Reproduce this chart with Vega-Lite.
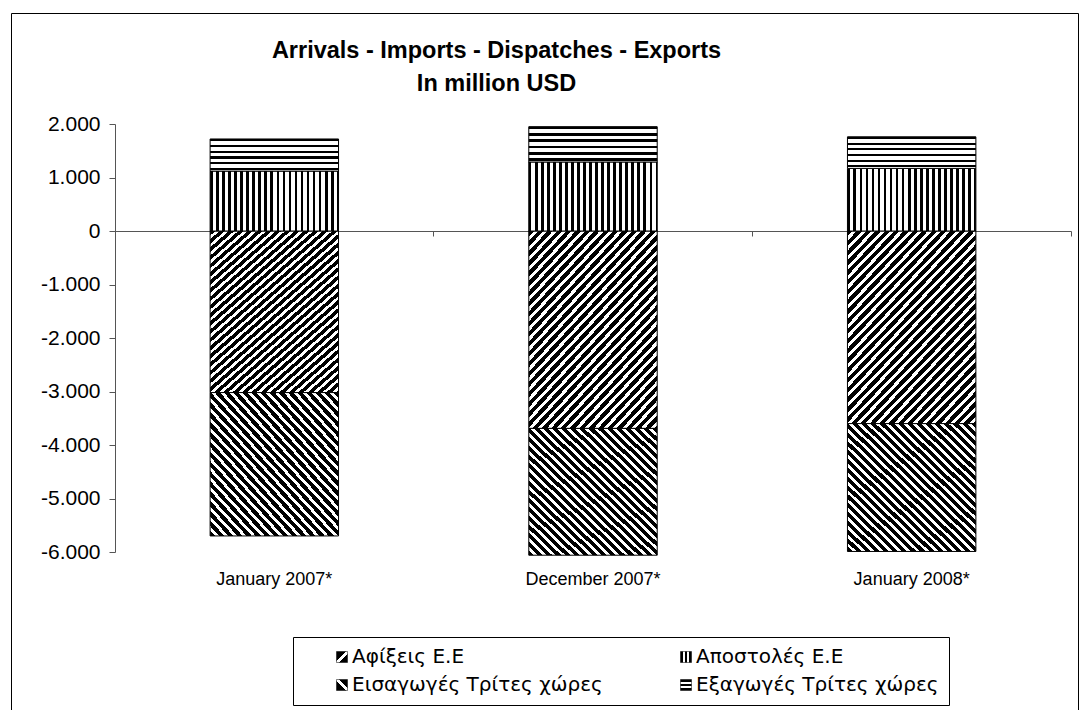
{
  "$schema": "https://vega.github.io/schema/vega-lite/v6.json",
  "width": 1067,
  "height": 710,
  "autosize": {"type": "none"},
  "padding": {"left": 11, "top": 13, "right": 10, "bottom": 0},
  "background": "white",
  "config": {
    "view": {"stroke": "#000", "strokeWidth": 1},
    "font": "Liberation Sans"
  },
  "title": {
    "text": ["Arrivals - Imports - Dispatches - Exports", "In million USD"],
    "fontSize": 23.5,
    "fontWeight": "bold",
    "font": "Liberation Sans",
    "color": "#000",
    "anchor": "middle",
    "offset": 0,
    "dy": 82,
    "dx": -48,
    "lineHeight": 33
  },
  "data": {
    "values": [
      {"period": "January 2007*", "series": "Αφίξεις Ε.Ε", "value": -3020, "ord": 1},
      {"period": "January 2007*", "series": "Εισαγωγές Τρίτες χώρες", "value": -2680, "ord": 2},
      {"period": "January 2007*", "series": "Αποστολές  Ε.Ε", "value": 1120, "ord": 1},
      {"period": "January 2007*", "series": "Εξαγωγές Τρίτες χώρες", "value": 600, "ord": 2},
      {"period": "December 2007*", "series": "Αφίξεις Ε.Ε", "value": -3690, "ord": 1},
      {"period": "December 2007*", "series": "Εισαγωγές Τρίτες χώρες", "value": -2370, "ord": 2},
      {"period": "December 2007*", "series": "Αποστολές  Ε.Ε", "value": 1290, "ord": 1},
      {"period": "December 2007*", "series": "Εξαγωγές Τρίτες χώρες", "value": 660, "ord": 2},
      {"period": "January 2008*", "series": "Αφίξεις Ε.Ε", "value": -3600, "ord": 1},
      {"period": "January 2008*", "series": "Εισαγωγές Τρίτες χώρες", "value": -2390, "ord": 2},
      {"period": "January 2008*", "series": "Αποστολές  Ε.Ε", "value": 1170, "ord": 1},
      {"period": "January 2008*", "series": "Εξαγωγές Τρίτες χώρες", "value": 590, "ord": 2}
    ]
  },
  "resolve": {"axis": {"x": "independent"}},
  "layer": [
    {
      "mark": {"type": "rule", "opacity": 0},
      "encoding": {
        "x": {
          "field": "period",
          "type": "nominal",
          "sort": ["January 2007*", "December 2007*", "January 2008*"],
          "scale": {"range": [104, 1060], "paddingInner": 0, "paddingOuter": 0},
          "axis": {
            "orient": "bottom",
            "offset": -492,
            "title": null,
            "labels": false,
            "domainColor": "#555",
            "tickColor": "#555",
            "tickSize": 5,
            "bandPosition": 1,
            "grid": false
          }
        }
      }
    },
    {
      "mark": {"type": "bar", "strokeWidth": 1, "width": {"band": 0.403}},
      "encoding": {
        "x": {
          "field": "period",
          "type": "nominal",
          "sort": ["January 2007*", "December 2007*", "January 2008*"],
          "axis": {
            "orient": "bottom",
            "offset": -144,
            "title": null,
            "domain": false,
            "ticks": false,
            "labelPadding": 0,
            "labelBaseline": "middle",
            "labelAngle": 0,
            "labelFontSize": 18,
            "labelColor": "#000",
            "labelFont": "Liberation Sans"
          }
        },
        "y": {
          "field": "value",
          "type": "quantitative",
          "stack": "zero",
          "scale": {"domain": [-6000, 2000], "range": [539, 111], "nice": false},
          "axis": {
            "orient": "left",
            "offset": -104,
            "title": null,
            "grid": false,
            "values": [-6000, -5000, -4000, -3000, -2000, -1000, 0, 1000, 2000],
            "labelExpr": "(datum.value < 0 ? '-' : '') + replace(format(abs(datum.value), ','), ',', '.')",
            "labelFontSize": 21,
            "labelColor": "#000",
            "labelFont": "Liberation Sans",
            "labelPadding": 9,
            "tickSize": 6,
            "domainColor": "#555",
            "tickColor": "#555"
          }
        },
        "order": {"field": "ord", "type": "quantitative"},
        "fill": {
          "value": {
            "expr": "datum.series === 'Αφίξεις Ε.Ε' ? {gradient: 'linear', x1: 0, y1: 0, x2: 0.795, y2: 1.143, stops: [{offset:0,color:'#000'},{offset:0.017,color:'#000'},{offset:0.017,color:'#fff'},{offset:0.03,color:'#fff'},{offset:0.03,color:'#000'},{offset:0.047,color:'#000'},{offset:0.047,color:'#fff'},{offset:0.06,color:'#fff'},{offset:0.06,color:'#000'},{offset:0.077,color:'#000'},{offset:0.077,color:'#fff'},{offset:0.09,color:'#fff'},{offset:0.09,color:'#000'},{offset:0.107,color:'#000'},{offset:0.107,color:'#fff'},{offset:0.12,color:'#fff'},{offset:0.12,color:'#000'},{offset:0.137,color:'#000'},{offset:0.137,color:'#fff'},{offset:0.15,color:'#fff'},{offset:0.15,color:'#000'},{offset:0.167,color:'#000'},{offset:0.167,color:'#fff'},{offset:0.18,color:'#fff'},{offset:0.18,color:'#000'},{offset:0.197,color:'#000'},{offset:0.197,color:'#fff'},{offset:0.21,color:'#fff'},{offset:0.21,color:'#000'},{offset:0.227,color:'#000'},{offset:0.227,color:'#fff'},{offset:0.24,color:'#fff'},{offset:0.24,color:'#000'},{offset:0.257,color:'#000'},{offset:0.257,color:'#fff'},{offset:0.27,color:'#fff'},{offset:0.27,color:'#000'},{offset:0.287,color:'#000'},{offset:0.287,color:'#fff'},{offset:0.3,color:'#fff'},{offset:0.3,color:'#000'},{offset:0.317,color:'#000'},{offset:0.317,color:'#fff'},{offset:0.33,color:'#fff'},{offset:0.33,color:'#000'},{offset:0.347,color:'#000'},{offset:0.347,color:'#fff'},{offset:0.36,color:'#fff'},{offset:0.36,color:'#000'},{offset:0.377,color:'#000'},{offset:0.377,color:'#fff'},{offset:0.39,color:'#fff'},{offset:0.39,color:'#000'},{offset:0.407,color:'#000'},{offset:0.407,color:'#fff'},{offset:0.42,color:'#fff'},{offset:0.42,color:'#000'},{offset:0.437,color:'#000'},{offset:0.437,color:'#fff'},{offset:0.45,color:'#fff'},{offset:0.45,color:'#000'},{offset:0.467,color:'#000'},{offset:0.467,color:'#fff'},{offset:0.48,color:'#fff'},{offset:0.48,color:'#000'},{offset:0.497,color:'#000'},{offset:0.497,color:'#fff'},{offset:0.51,color:'#fff'},{offset:0.51,color:'#000'},{offset:0.527,color:'#000'},{offset:0.527,color:'#fff'},{offset:0.54,color:'#fff'},{offset:0.54,color:'#000'},{offset:0.557,color:'#000'},{offset:0.557,color:'#fff'},{offset:0.57,color:'#fff'},{offset:0.57,color:'#000'},{offset:0.587,color:'#000'},{offset:0.587,color:'#fff'},{offset:0.6,color:'#fff'},{offset:0.6,color:'#000'},{offset:0.617,color:'#000'},{offset:0.617,color:'#fff'},{offset:0.63,color:'#fff'},{offset:0.63,color:'#000'},{offset:0.647,color:'#000'},{offset:0.647,color:'#fff'},{offset:0.66,color:'#fff'},{offset:0.66,color:'#000'},{offset:0.677,color:'#000'},{offset:0.677,color:'#fff'},{offset:0.69,color:'#fff'},{offset:0.69,color:'#000'},{offset:0.707,color:'#000'},{offset:0.707,color:'#fff'},{offset:0.72,color:'#fff'},{offset:0.72,color:'#000'},{offset:0.737,color:'#000'},{offset:0.737,color:'#fff'},{offset:0.75,color:'#fff'},{offset:0.75,color:'#000'},{offset:0.767,color:'#000'},{offset:0.767,color:'#fff'},{offset:0.78,color:'#fff'},{offset:0.78,color:'#000'},{offset:0.797,color:'#000'},{offset:0.797,color:'#fff'},{offset:0.81,color:'#fff'},{offset:0.81,color:'#000'},{offset:0.827,color:'#000'},{offset:0.827,color:'#fff'},{offset:0.84,color:'#fff'},{offset:0.84,color:'#000'},{offset:0.857,color:'#000'},{offset:0.857,color:'#fff'},{offset:0.87,color:'#fff'},{offset:0.87,color:'#000'},{offset:0.887,color:'#000'},{offset:0.887,color:'#fff'},{offset:0.9,color:'#fff'},{offset:0.9,color:'#000'},{offset:0.917,color:'#000'},{offset:0.917,color:'#fff'},{offset:0.93,color:'#fff'},{offset:0.93,color:'#000'},{offset:0.947,color:'#000'},{offset:0.947,color:'#fff'},{offset:0.96,color:'#fff'},{offset:0.96,color:'#000'},{offset:0.977,color:'#000'},{offset:0.977,color:'#fff'},{offset:0.99,color:'#fff'},{offset:0.99,color:'#000'},{offset:1,color:'#000'}]} : datum.series === 'Αποστολές  Ε.Ε' ? {gradient: 'linear', x1: 0, y1: 0, x2: 1, y2: 0, stops: [{offset:0,color:'#000'},{offset:0.021,color:'#000'},{offset:0.021,color:'#fff'},{offset:0.047,color:'#fff'},{offset:0.047,color:'#000'},{offset:0.068,color:'#000'},{offset:0.068,color:'#fff'},{offset:0.094,color:'#fff'},{offset:0.094,color:'#000'},{offset:0.115,color:'#000'},{offset:0.115,color:'#fff'},{offset:0.141,color:'#fff'},{offset:0.141,color:'#000'},{offset:0.162,color:'#000'},{offset:0.162,color:'#fff'},{offset:0.188,color:'#fff'},{offset:0.188,color:'#000'},{offset:0.209,color:'#000'},{offset:0.209,color:'#fff'},{offset:0.235,color:'#fff'},{offset:0.235,color:'#000'},{offset:0.256,color:'#000'},{offset:0.256,color:'#fff'},{offset:0.282,color:'#fff'},{offset:0.282,color:'#000'},{offset:0.303,color:'#000'},{offset:0.303,color:'#fff'},{offset:0.329,color:'#fff'},{offset:0.329,color:'#000'},{offset:0.35,color:'#000'},{offset:0.35,color:'#fff'},{offset:0.376,color:'#fff'},{offset:0.376,color:'#000'},{offset:0.397,color:'#000'},{offset:0.397,color:'#fff'},{offset:0.423,color:'#fff'},{offset:0.423,color:'#000'},{offset:0.444,color:'#000'},{offset:0.444,color:'#fff'},{offset:0.47,color:'#fff'},{offset:0.47,color:'#000'},{offset:0.491,color:'#000'},{offset:0.491,color:'#fff'},{offset:0.517,color:'#fff'},{offset:0.517,color:'#000'},{offset:0.538,color:'#000'},{offset:0.538,color:'#fff'},{offset:0.564,color:'#fff'},{offset:0.564,color:'#000'},{offset:0.585,color:'#000'},{offset:0.585,color:'#fff'},{offset:0.611,color:'#fff'},{offset:0.611,color:'#000'},{offset:0.632,color:'#000'},{offset:0.632,color:'#fff'},{offset:0.658,color:'#fff'},{offset:0.658,color:'#000'},{offset:0.679,color:'#000'},{offset:0.679,color:'#fff'},{offset:0.705,color:'#fff'},{offset:0.705,color:'#000'},{offset:0.726,color:'#000'},{offset:0.726,color:'#fff'},{offset:0.752,color:'#fff'},{offset:0.752,color:'#000'},{offset:0.773,color:'#000'},{offset:0.773,color:'#fff'},{offset:0.799,color:'#fff'},{offset:0.799,color:'#000'},{offset:0.82,color:'#000'},{offset:0.82,color:'#fff'},{offset:0.846,color:'#fff'},{offset:0.846,color:'#000'},{offset:0.867,color:'#000'},{offset:0.867,color:'#fff'},{offset:0.893,color:'#fff'},{offset:0.893,color:'#000'},{offset:0.914,color:'#000'},{offset:0.914,color:'#fff'},{offset:0.94,color:'#fff'},{offset:0.94,color:'#000'},{offset:0.961,color:'#000'},{offset:0.961,color:'#fff'},{offset:0.987,color:'#fff'},{offset:0.987,color:'#000'},{offset:1,color:'#000'}]} : datum.series === 'Εισαγωγές Τρίτες χώρες' ? {gradient: 'linear', x1: 0, y1: 1, x2: 0.985, y2: -0.015, stops: [{offset:0,color:'#000'},{offset:0.02,color:'#000'},{offset:0.02,color:'#fff'},{offset:0.035,color:'#fff'},{offset:0.035,color:'#000'},{offset:0.055,color:'#000'},{offset:0.055,color:'#fff'},{offset:0.07,color:'#fff'},{offset:0.07,color:'#000'},{offset:0.09,color:'#000'},{offset:0.09,color:'#fff'},{offset:0.105,color:'#fff'},{offset:0.105,color:'#000'},{offset:0.125,color:'#000'},{offset:0.125,color:'#fff'},{offset:0.14,color:'#fff'},{offset:0.14,color:'#000'},{offset:0.16,color:'#000'},{offset:0.16,color:'#fff'},{offset:0.175,color:'#fff'},{offset:0.175,color:'#000'},{offset:0.195,color:'#000'},{offset:0.195,color:'#fff'},{offset:0.21,color:'#fff'},{offset:0.21,color:'#000'},{offset:0.23,color:'#000'},{offset:0.23,color:'#fff'},{offset:0.245,color:'#fff'},{offset:0.245,color:'#000'},{offset:0.265,color:'#000'},{offset:0.265,color:'#fff'},{offset:0.28,color:'#fff'},{offset:0.28,color:'#000'},{offset:0.3,color:'#000'},{offset:0.3,color:'#fff'},{offset:0.315,color:'#fff'},{offset:0.315,color:'#000'},{offset:0.335,color:'#000'},{offset:0.335,color:'#fff'},{offset:0.35,color:'#fff'},{offset:0.35,color:'#000'},{offset:0.37,color:'#000'},{offset:0.37,color:'#fff'},{offset:0.385,color:'#fff'},{offset:0.385,color:'#000'},{offset:0.405,color:'#000'},{offset:0.405,color:'#fff'},{offset:0.42,color:'#fff'},{offset:0.42,color:'#000'},{offset:0.44,color:'#000'},{offset:0.44,color:'#fff'},{offset:0.455,color:'#fff'},{offset:0.455,color:'#000'},{offset:0.475,color:'#000'},{offset:0.475,color:'#fff'},{offset:0.49,color:'#fff'},{offset:0.49,color:'#000'},{offset:0.51,color:'#000'},{offset:0.51,color:'#fff'},{offset:0.525,color:'#fff'},{offset:0.525,color:'#000'},{offset:0.545,color:'#000'},{offset:0.545,color:'#fff'},{offset:0.56,color:'#fff'},{offset:0.56,color:'#000'},{offset:0.58,color:'#000'},{offset:0.58,color:'#fff'},{offset:0.595,color:'#fff'},{offset:0.595,color:'#000'},{offset:0.615,color:'#000'},{offset:0.615,color:'#fff'},{offset:0.63,color:'#fff'},{offset:0.63,color:'#000'},{offset:0.65,color:'#000'},{offset:0.65,color:'#fff'},{offset:0.665,color:'#fff'},{offset:0.665,color:'#000'},{offset:0.685,color:'#000'},{offset:0.685,color:'#fff'},{offset:0.7,color:'#fff'},{offset:0.7,color:'#000'},{offset:0.72,color:'#000'},{offset:0.72,color:'#fff'},{offset:0.735,color:'#fff'},{offset:0.735,color:'#000'},{offset:0.755,color:'#000'},{offset:0.755,color:'#fff'},{offset:0.77,color:'#fff'},{offset:0.77,color:'#000'},{offset:0.79,color:'#000'},{offset:0.79,color:'#fff'},{offset:0.805,color:'#fff'},{offset:0.805,color:'#000'},{offset:0.825,color:'#000'},{offset:0.825,color:'#fff'},{offset:0.84,color:'#fff'},{offset:0.84,color:'#000'},{offset:0.86,color:'#000'},{offset:0.86,color:'#fff'},{offset:0.875,color:'#fff'},{offset:0.875,color:'#000'},{offset:0.895,color:'#000'},{offset:0.895,color:'#fff'},{offset:0.91,color:'#fff'},{offset:0.91,color:'#000'},{offset:0.93,color:'#000'},{offset:0.93,color:'#fff'},{offset:0.945,color:'#fff'},{offset:0.945,color:'#000'},{offset:0.965,color:'#000'},{offset:0.965,color:'#fff'},{offset:0.98,color:'#fff'},{offset:0.98,color:'#000'},{offset:1,color:'#000'}]} : datum.series === 'Εξαγωγές Τρίτες χώρες' ? {gradient: 'linear', x1: 0, y1: 0, x2: 0, y2: 1, stops: [{offset:0,color:'#000'},{offset:0.07,color:'#000'},{offset:0.07,color:'#fff'},{offset:0.18,color:'#fff'},{offset:0.18,color:'#000'},{offset:0.25,color:'#000'},{offset:0.25,color:'#fff'},{offset:0.36,color:'#fff'},{offset:0.36,color:'#000'},{offset:0.43,color:'#000'},{offset:0.43,color:'#fff'},{offset:0.54,color:'#fff'},{offset:0.54,color:'#000'},{offset:0.61,color:'#000'},{offset:0.61,color:'#fff'},{offset:0.72,color:'#fff'},{offset:0.72,color:'#000'},{offset:0.79,color:'#000'},{offset:0.79,color:'#fff'},{offset:0.9,color:'#fff'},{offset:0.9,color:'#000'},{offset:0.97,color:'#000'},{offset:0.97,color:'#fff'},{offset:1,color:'#fff'}]} : datum.value === 'Αφίξεις Ε.Ε' ? {gradient: 'linear', x1: 0, y1: 0, x2: 1, y2: 1, stops: [{offset:0,color:'#000'},{offset:0.44,color:'#000'},{offset:0.44,color:'#fff'},{offset:0.6,color:'#fff'},{offset:0.6,color:'#000'},{offset:1,color:'#000'}]} : datum.value === 'Εισαγωγές Τρίτες χώρες' ? {gradient: 'linear', x1: 0, y1: 1, x2: 1, y2: 0, stops: [{offset:0,color:'#000'},{offset:0.44,color:'#000'},{offset:0.44,color:'#fff'},{offset:0.6,color:'#fff'},{offset:0.6,color:'#000'},{offset:1,color:'#000'}]} : datum.value === 'Αποστολές  Ε.Ε' ? {gradient: 'linear', x1: 0, y1: 0, x2: 1, y2: 0, stops: [{offset:0,color:'#000'},{offset:0.22,color:'#000'},{offset:0.22,color:'#fff'},{offset:0.38,color:'#fff'},{offset:0.38,color:'#000'},{offset:0.62,color:'#000'},{offset:0.62,color:'#fff'},{offset:0.78,color:'#fff'},{offset:0.78,color:'#000'},{offset:1,color:'#000'}]} : {gradient: 'linear', x1: 0, y1: 0, x2: 0, y2: 1, stops: [{offset:0,color:'#000'},{offset:0.2,color:'#000'},{offset:0.2,color:'#fff'},{offset:0.42,color:'#fff'},{offset:0.42,color:'#000'},{offset:0.58,color:'#000'},{offset:0.58,color:'#fff'},{offset:0.8,color:'#fff'},{offset:0.8,color:'#000'},{offset:1,color:'#000'}]}"
          }
        },
        "stroke": {
          "field": "series",
          "type": "nominal",
          "scale": {
            "domain": ["Αφίξεις Ε.Ε", "Αποστολές  Ε.Ε", "Εισαγωγές Τρίτες χώρες", "Εξαγωγές Τρίτες χώρες"],
            "range": ["#000", "#000", "#000", "#000"]
          },
          "legend": {
            "orient": "none",
            "legendX": 282,
            "legendY": 624,
            "title": " ",
            "titleOrient": "left",
            "titlePadding": 29,
            "titleFontSize": 10,
            "columns": 2,
            "direction": "horizontal",
            "strokeColor": "#000",
            "padding": 10,
            "symbolType": "square",
            "symbolSize": 121,
            "symbolStrokeWidth": 0.5,
            "labelFontSize": 20,
            "labelOffset": 0,
            "labelFont": "DejaVu Sans",
            "labelColor": "#000",
            "labelLimit": 400,
            "columnPadding": 73,
            "rowPadding": 8
          }
        }
      }
    }
  ]
}
